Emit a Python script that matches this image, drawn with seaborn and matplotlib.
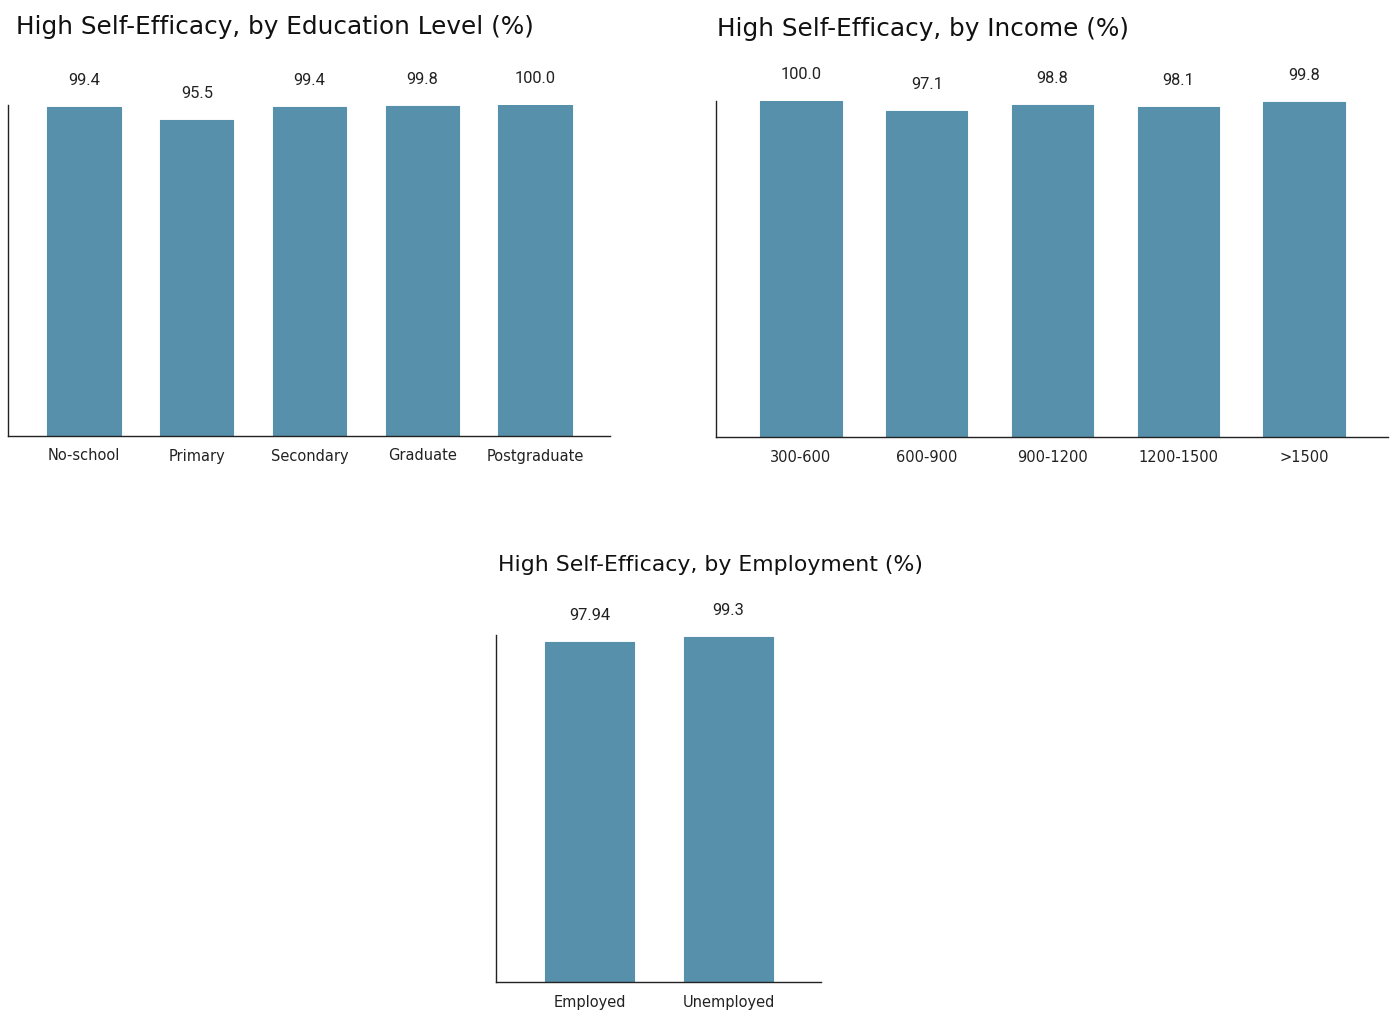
import matplotlib
matplotlib.use("Agg")
import matplotlib.pyplot as plt
import seaborn as sns
import pandas as pd

edu_categories = ["No-school", "Primary", "Secondary", "Graduate", "Postgraduate"]
edu_values = [99.4, 95.5, 99.4, 99.8, 100.0]
edu_labels = ["99.4", "95.5", "99.4", "99.8", "100.0"]

inc_categories = ["300-600", "600-900", "900-1200", "1200-1500", ">1500"]
inc_values = [100.0, 97.1, 98.8, 98.1, 99.8]
inc_labels = ["100.0", "97.1", "98.8", "98.1", "99.8"]

emp_categories = ["Employed", "Unemployed"]
emp_values = [97.94, 99.3]
emp_labels = ["97.94", "99.3"]

titles = ["High Self-Efficacy, by Education Level (%)",
          "High Self-Efficacy, by Income (%)",
          "High Self-Efficacy, by Employment (%)"]

sns.set_theme(style="white")
plt.rcParams['font.family'] = ['DejaVu Sans']

W, H = 1394, 1011
fig = plt.figure(figsize=(W / 100, H / 100), dpi=100)

BAR_COLOR = "#5790AB"

def px_axes(x0, x1, ytop, ybot):
    return fig.add_axes([x0 / W, 1 - ybot / H, (x1 - x0) / W, (ybot - ytop) / H])

specs = [
    (edu_categories, edu_values, edu_labels, (8, 610, 105, 436), 0.65, 0.674, 0.665, (16, 27), 17.8),
    (inc_categories, inc_values, inc_labels, (716, 1388, 101, 437), 0.648, 0.676, 0.668, (717, 29), 17.8),
    (emp_categories, emp_values, emp_labels, (496, 821, 634.6, 982), 0.636, 0.673, 0.665, (498, 565), 15.8),
]

for (cats, vals, labs, box, width, lpad, rpad, tpos, tsize), title in zip(specs, titles):
    ax = px_axes(*box)
    df = pd.DataFrame({"cat": cats, "val": vals})
    sns.barplot(data=df, x="cat", y="val", order=cats, color=BAR_COLOR,
                saturation=1, width=width, ax=ax, edgecolor=BAR_COLOR,
                linewidth=0.8)
    for p in ax.patches:
        p.set_joinstyle("round")
    ax.set_ylim(0, 100)
    ax.set_xlim(-lpad, len(cats) - 1 + rpad)
    ax.set_xlabel("")
    ax.set_ylabel("")
    ax.set_yticks([])
    ax.tick_params(axis="x", length=0, pad=9, labelsize=10.5, labelcolor="#222222")
    for s in ["top", "right"]:
        ax.spines[s].set_visible(False)
    for s in ["left", "bottom"]:
        ax.spines[s].set_visible(True)
        ax.spines[s].set_color("#222222")
        ax.spines[s].set_linewidth(1.0)
    for i, (v, lab) in enumerate(zip(vals, labs)):
        ax.annotate(lab, xy=(i, v), xytext=(0, 19), textcoords="offset points",
                    ha="center", va="center", fontsize=11.8, color="#222222",
                    family=["Roboto", "DejaVu Sans"], annotation_clip=False)
    fig.text(tpos[0] / W, 1 - tpos[1] / H, title, ha="left", va="center",
             fontsize=tsize, color="#111111")

fig.savefig("out.png", dpi=100)
